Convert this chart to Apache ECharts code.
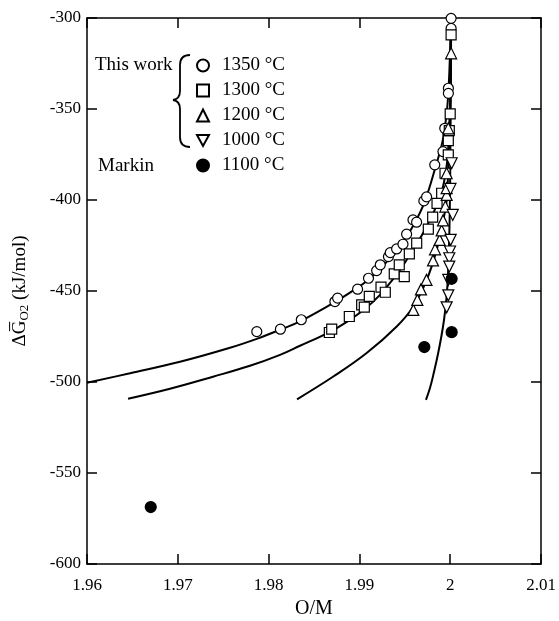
<!DOCTYPE html>
<html>
<head>
<meta charset="utf-8">
<script src="https://cdn.jsdelivr.net/npm/echarts@6/dist/echarts.min.js"></script>
<style>
  html, body { margin: 0; padding: 0; background: #fff; }
  #chart { width: 559px; height: 621px; }
</style>
</head>
<body>
<div id="chart"></div>
<script>
// this work, 1350 °C  [O/M, dG]
var pts1350 = [
  [1.9787, -472.3], [1.9813, -471], [1.9836, -465.8], [1.9873, -455.8], [1.9876, -453.9],
  [1.9898, -449], [1.9910, -443], [1.9919, -438.8], [1.9923, -435.6], [1.9932, -431.1],
  [1.9934, -428.9], [1.9941, -426.9], [1.9948, -424.3], [1.9952, -418.8], [1.9959, -410.9],
  [1.9963, -412.2], [1.9971, -400.5], [1.9974, -398.3], [1.9983, -380.7], [1.9992, -373.4],
  [1.9994, -360.6], [1.9998, -338.6], [1.9998, -341.4], [2.0001, -305.7], [2.0001, -300.2]
];
var pts1300 = [
  [1.98669, -472.8], [1.98695, -471], [1.98889, -464], [1.99025, -457.6], [1.99054, -458.9],
  [1.99109, -453], [1.99238, -447.9], [1.99285, -450.7], [1.99384, -440.6], [1.99494, -442.1],
  [1.99439, -435.6], [1.99550, -429.6], [1.99631, -423.7], [1.99759, -416], [1.99807, -409.4],
  [1.99855, -401.8], [1.99906, -396.3], [1.99943, -385.3], [1.99979, -375.2], [1.99979, -367.4],
  [1.9999, -361.9], [2.0, -352.7], [2.0001, -309.3]
];
var pts1200 = [
  [1.99594, -460.4], [1.99638, -454.9], [1.99678, -449.1], [1.99739, -443.9], [1.99811, -433.2],
  [1.99833, -427.1], [1.99884, -421.9], [1.99906, -416.7], [1.99921, -411.2], [1.99946, -403.6],
  [1.99961, -397.2], [1.99961, -393.5], [1.99961, -385.3], [1.99979, -360.6], [2.0001, -319.4]
];
var pts1000 = [
  [2.00016, -379.8], [2.00003, -393.9], [2.00028, -408.2], [2.00005, -421.9], [1.99998, -428.3],
  [1.9999, -432], [1.9999, -436.6], [1.99979, -443.9], [1.99979, -452.4], [1.99961, -459]
];
// Markin, 1100 °C
var ptsMarkin = [
  [2.00016, -443.3], [2.00016, -472.6], [1.99715, -480.8], [1.96702, -568.7]
];

// fitted curves
var fit1350 = [
  [1.96, -500.4], [1.96474, -495.2], [1.97024, -488.9], [1.97575, -481.2], [1.97869, -476.3],
  [1.98126, -471.3], [1.98357, -466.4], [1.98733, -456.0], [1.98975, -448.3], [1.99096, -443.9],
  [1.99228, -437.8], [1.99339, -431.8], [1.99482, -423.0], [1.99592, -414.2], [1.99714, -401.6],
  [1.99835, -382.4], [1.99923, -365.9], [1.99978, -342.3], [2.00005, -300]
];
var fit1300 = [
  [1.96452, -509.2], [1.96914, -503.7], [1.97388, -497.1], [1.97795, -491.1], [1.98126, -485.1],
  [1.98346, -480.1], [1.98676, -472.4], [1.98896, -465.8], [1.99062, -459.8], [1.99227, -452.1],
  [1.99337, -445.5], [1.99447, -438.4], [1.99590, -427.4], [1.99689, -419.2], [1.99778, -410.9],
  [1.99844, -403.8], [1.99888, -398.8], [1.99932, -390.1], [1.99965, -379.6], [1.99987, -364.3],
  [2.0, -345], [2.00009, -312.1], [2.00012, -304.9]
];
var fit1200 = [
  [1.98313, -509.5], [1.98713, -497], [1.9908, -484.1], [1.99411, -469.5], [1.99594, -458.5],
  [1.99741, -443.9], [1.99851, -427.4], [1.99924, -410.9], [1.99962, -399.9], [1.99981, -378],
  [1.99995, -356], [2.00004, -334], [2.0001, -317.6]
];
var fit1000 = [
  [1.99733, -509.8], [1.99778, -503.2], [1.99822, -494.4], [1.99866, -484.5], [1.99904, -474.6],
  [1.99932, -465.8], [1.99954, -456.5], [1.9997, -446.6], [1.99981, -434], [1.9999, -419.2],
  [1.99997, -399.9], [2.00002, -372.5], [2.00007, -339.5], [2.0001, -306.6]
];

var xTicks = { min: 1.96, max: 2.01, step: 0.01 };
var yTicks = { min: -600, max: -300, step: 50 };

var serif = 'Liberation Serif';
var downTriangle = 'path://M0,0L10,0L5,9Z';
var chart = echarts.init(document.getElementById('chart'));

function axisCommon(extra) {
  return Object.assign({
    axisLine: { show: true, onZero: false, lineStyle: { color: '#000', width: 1.5 } },
    axisTick: { show: true, inside: true, length: 10, lineStyle: { color: '#000', width: 1.5 } },
    splitLine: { show: false }
  }, extra);
}

function fitLine(data) {
  return {
    type: 'line', data: data, showSymbol: false, smooth: 0.4,
    lineStyle: { color: '#000', width: 2 }, z: 1, silent: true, clip: false
  };
}

function scatter(name, data, symbol, size, filled) {
  return {
    name: name, type: 'scatter', data: data, symbol: symbol, symbolSize: size,
    clip: false, z: 3,
    itemStyle: { color: filled ? '#000' : '#fff', borderColor: '#000', borderWidth: 1.2, opacity: 1 }
  };
}

// brace next to "This work"
var braceStyle = { fill: null, stroke: '#000', lineWidth: 1.8 };
function bz(x1, y1, cx, cy, x2, y2) {
  return { type: 'bezierCurve', shape: { x1: x1, y1: y1, cpx1: cx, cpy1: cy, x2: x2, y2: y2 }, style: braceStyle };
}
function ln(x1, y1, x2, y2) {
  return { type: 'line', shape: { x1: x1, y1: y1, x2: x2, y2: y2 }, style: braceStyle };
}

chart.setOption({
  animation: false,
  backgroundColor: '#fff',
  grid: { left: 87, right: 18, top: 18, bottom: 57, outerBoundsMode: 'none', containLabel: false },
  xAxis: [
    axisCommon({
      type: 'value', min: xTicks.min, max: xTicks.max, interval: xTicks.step, position: 'bottom',
      name: 'O/M', nameLocation: 'middle', nameGap: 35,
      nameTextStyle: { fontFamily: serif, fontSize: 20, color: '#000' },
      axisLabel: {
        margin: 13, fontFamily: serif, fontSize: 17, color: '#000',
        formatter: function (v) { return String(+v.toFixed(2)); }
      }
    }),
    axisCommon({
      type: 'value', min: xTicks.min, max: xTicks.max, interval: xTicks.step, position: 'top',
      axisLabel: { show: false }
    })
  ],
  yAxis: [
    axisCommon({
      type: 'value', min: yTicks.min, max: yTicks.max, interval: yTicks.step, position: 'left',
      name: '{t|ΔG̅}{s|O2}{t| (kJ/mol)}', nameLocation: 'middle', nameGap: 56, nameRotate: 90,
      nameTextStyle: {
        color: '#000',
        rich: {
          t: { fontFamily: serif, fontSize: 19, color: '#000' },
          s: { fontFamily: serif, fontSize: 13, color: '#000', padding: [9, 0, 0, 0] }
        }
      },
      axisLabel: { margin: 6, fontFamily: serif, fontSize: 17, color: '#000' }
    }),
    axisCommon({
      type: 'value', min: yTicks.min, max: yTicks.max, interval: yTicks.step, position: 'right',
      axisLabel: { show: false }
    })
  ],
  legend: {
    data: ['1350 °C', '1300 °C', '1200 °C', '1000 °C', '1100 °C'],
    orient: 'vertical', left: 191, top: 51,
    itemWidth: 12, itemHeight: 12, itemGap: 6,
    textStyle: { fontFamily: serif, fontSize: 19, color: '#000', padding: [0, 0, 0, 8] }
  },
  graphic: [
    { type: 'text', x: 95, y: 56, style: { text: 'This work', font: '19px "Liberation Serif"', fill: '#000' } },
    { type: 'text', x: 98, y: 157, style: { text: 'Markin', font: '19px "Liberation Serif"', fill: '#000' } },
    bz(190, 55, 180, 55, 180, 65), ln(180, 65, 180, 91), bz(180, 91, 180, 99, 173, 100),
    bz(173, 100, 180, 101, 180, 109), ln(180, 109, 180, 137), bz(180, 137, 180, 147, 190, 147)
  ],
  series: [
    fitLine(fit1350), fitLine(fit1300), fitLine(fit1200), fitLine(fit1000),
    scatter('1350 °C', pts1350, 'circle', 10, false),
    scatter('1300 °C', pts1300, 'rect', 10, false),
    scatter('1200 °C', pts1200, 'triangle', 11, false),
    scatter('1000 °C', pts1000, downTriangle, 11, false),
    scatter('1100 °C', ptsMarkin, 'circle', 11, true)
  ]
});
</script>
</body>
</html>
